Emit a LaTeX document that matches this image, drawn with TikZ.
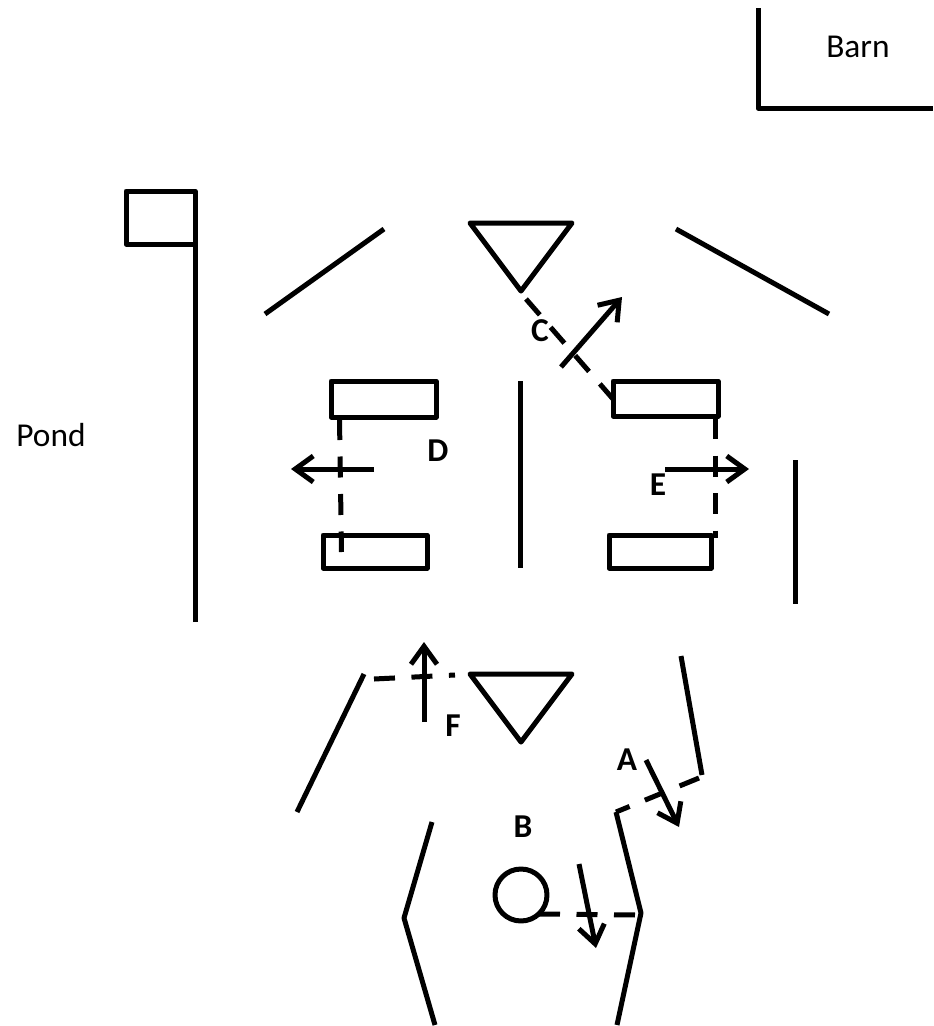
\documentclass[tikz,border=0pt]{standalone}
\usepackage{fontspec}
\setmainfont{Carlito}
\usetikzlibrary{arrows.meta}
\tikzset{
  wall/.style={line width=.5mm,black,line join=round},
  gate/.style={wall,dash pattern=on 2.1mm off 1.65mm},
  move/.style={wall,-{Straight Barb[length=1.8mm,width=2.6mm,line width=.5mm]}},
  tag/.style={font=\fontsize{9.5}{9.5}\selectfont\bfseries,inner sep=0pt},
  place/.style={font=\fontsize{9.5}{9.5}\selectfont,inner sep=0pt}
}

\begin{document}
\begin{tikzpicture}[x=.1mm,y=-.1mm]
            \useasboundingbox (0,0) rectangle (933,1026);

            % pens and troughs
            \foreach \xa/\ya/\xb/\yb/\i in {331/381/436/417/ul,613/381/718/416/ur,323/535/427/568/ll,609/535/711/568/lr} {
            \draw[wall] (\xa,\ya) coordinate (r\i) rectangle (\xb,\yb);}
            \foreach \x/\y/\i in {470/223/a,470/674/b} {
            \draw[wall] (\x,\y) coordinate (t\i) -- ++(102,0) -- ++(-51,68) -- cycle;}

            \draw[wall] (758,8) -- (758,108) -- (933,108);
            \draw[wall] (195,622) -- (195,191) -- (126,191) -- (126,244) -- (195,244);
            \draw[wall] (265,314) -- (384,229);
            \draw[wall] (676,229) -- (829,314);
            \draw[wall] (520.7,381) -- (520.7,568);
            \draw[wall] (795,460) -- (795,604);
            \draw[wall] (364,674) -- (297,812);
            \draw[wall] (681,656) -- (702,775);
            \draw[wall] (432,822) -- (404,918) -- (435,1025);
            \draw[wall] (616,812) -- (641,913) -- (617,1025);
            \draw[wall] (521,895) coordinate (trough) circle (26);

            % dashed gates
            \draw[gate] (526,299) -- (613,399);
            \draw[gate] (339.5,419) -- (341.5,552);
            \draw[gate] (715,418) -- (715,538);
            \draw[gate] (374,679) -- (455,675);
            \draw[gate] (699,778) -- (616,812);
            \draw[gate] (539,914) -- (636,915);

            \draw[move] (561,367) -- (622,297);
            \draw[move] (374,469) -- (291,469);
            \draw[move] (665,469) -- (749,469);
            \draw[move] (424,722) -- (424,642);
            \draw[move] (646,760) -- (679,827);
            \draw[move] (579,864) -- (596,948);

            \node[place] (pond) at (51,435) {Pond};
            \node[place] (barn) at (858,47) {Barn};
            \foreach \x/\y/\i in {627/760/A,523/827/B,540/331/C,438/451/D,658/485/E,453/726/F} {
            \node[tag] (l\i) at (\x,\y) {\i};}
        \end{tikzpicture}
\end{document}
